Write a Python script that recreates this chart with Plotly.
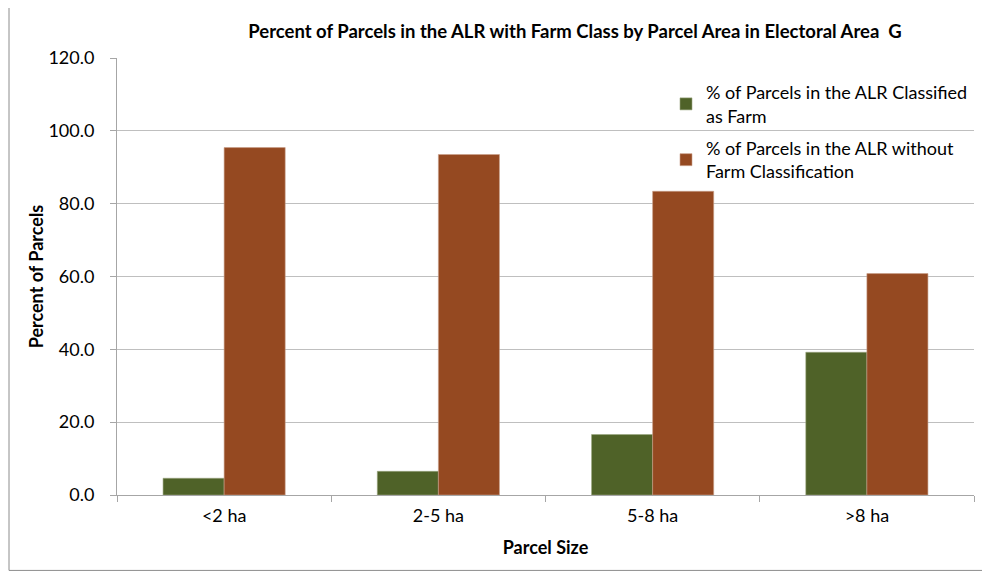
import plotly.graph_objects as go

categories = ["<2 ha", "2-5 ha", "5-8 ha", ">8 ha"]
farm = [4.6, 6.5, 16.6, 39.2]
non_farm = [95.4, 93.5, 83.4, 60.8]
series_names = ["% of Parcels in the ALR Classified<br>as Farm",
                "% of Parcels in the ALR without<br>Farm Classification"]
y_ticks = [0, 20, 40, 60, 80, 100, 120]

# The page body has an 8px margin, so work in window coordinates and offset.
OFF = 8
W, H = 990 - OFF, 573 - OFF
# plot area in window coordinates
PX0, PX1, PY0, PY1 = 117, 974, 58, 495.5
L, T = PX0 - OFF, PY0 - OFF
R, B = W - (PX1 - OFF), H - (PY1 - OFF)
pw, ph = PX1 - PX0, PY1 - PY0

def px(x):
    return (x - PX0) / pw

def py(y):
    return 1 - (y - PY0) / ph

font = "Lato, 'Open Sans', sans-serif"

fig = go.Figure()
fig.add_trace(go.Bar(x=categories, y=farm, name=series_names[0], legendgroup="farm",
                     marker=dict(color="#4F6228", line=dict(color="#9aa67f", width=0.6))))
fig.add_trace(go.Bar(x=categories, y=non_farm, name=series_names[1], legendgroup="nonfarm",
                     marker=dict(color="#954921", line=dict(color="#c9a08a", width=0.6))))

fig.update_layout(
    width=W, height=H,
    margin=dict(l=L, r=R, t=T, b=B, autoexpand=False),
    paper_bgcolor="white", plot_bgcolor="white",
    barmode="group", bargap=0.43, bargroupgap=0,
    font=dict(family=font, size=18, color="#000000"),
    title=dict(text="<b>Percent of Parcels in the ALR with Farm Class by Parcel Area in Electoral Area  G</b>",
               x=(575 - OFF) / W, xanchor="center", y=1 - (32 - OFF) / H, yanchor="middle",
               font=dict(size=18.5, family=font)),
    legend=dict(x=px(666), y=py(74), xanchor="left", yanchor="top",
                bgcolor="rgba(0,0,0,0)", font=dict(size=18, family=font),
                tracegroupgap=6, itemwidth=30),
    xaxis=dict(showline=True, linecolor="#a6a6a6", linewidth=1,
               ticks="outside", ticklen=6, tickcolor="#a6a6a6", tickson="boundaries",
               ticklabelstandoff=4,
               title=dict(text="<b>Parcel Size</b>", font=dict(size=18), standoff=16),
               tickfont=dict(size=18)),
    yaxis=dict(range=[0, 120], tickvals=y_ticks, tickformat=".1f",
               showline=True, linecolor="#a6a6a6", linewidth=1,
               ticks="outside", ticklen=6, tickcolor="#a6a6a6",
               ticklabelstandoff=12,
               showgrid=True, gridcolor="#bfbfbf", gridwidth=1,
               title=dict(text="<b>Percent of Parcels</b>", font=dict(size=18), standoff=0),
               tickfont=dict(size=18), zeroline=False),
)

fig.add_shape(type="rect", xref="paper", yref="paper",
              x0=px(9), x1=px(984), y0=py(571), y1=py(5),
              line=dict(color="#8c8c8c", width=1), fillcolor="rgba(0,0,0,0)", layer="below")

fig.write_html("out.html")
